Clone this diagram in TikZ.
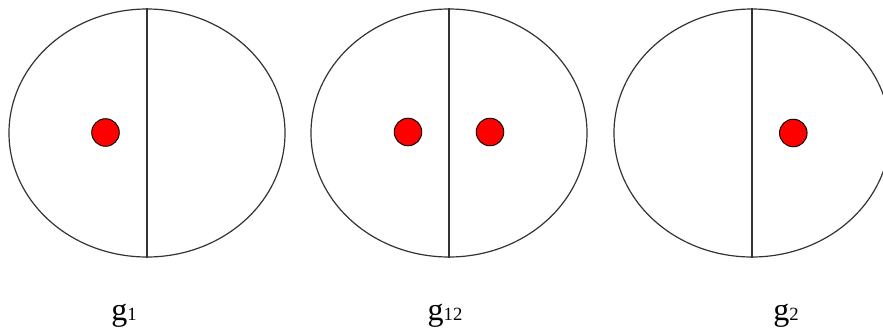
\documentclass[tikz,border=0pt]{standalone}
\usepackage{fontspec}
\setmainfont{Liberation Serif}
\usetikzlibrary{shapes.geometric}
\newcommand{\sublabel}[1]{g{\fontsize{14}{16}\selectfont #1}}
\begin{document}
\begin{tikzpicture}[x=0.75pt, y=-0.75pt,
    cell/.style={ellipse, draw=black!80, line width=0.9pt, minimum width=207pt, minimum height=186pt, inner sep=0pt},
    divider/.style={draw=black!80, line width=1pt},
    particle/.style={circle, fill=red, draw=black, line width=0.7pt, minimum size=20.7pt, inner sep=0pt},
    tag/.style={font=\fontsize{24}{26}\selectfont, inner sep=0pt, anchor=base}]
    \useasboundingbox (0,0) rectangle (883,329);

    % Cells
    \node[cell] (c1) at (147,133) {};
    \node[cell] (c12) at (449,133) {};
    \node[cell] (c2) at (752,133) {};

    % Dividing walls
    \draw[divider] (c1.north) -- (c1.south);
    \draw[divider] (c12.north) -- (c12.south);
    \draw[divider] (c2.north) -- (c2.south);

    % Particles
    \node[particle] (p1) at (105.5,132.5) {};
    \node[particle] (p12a) at (408,132) {};
    \node[particle] (p12b) at (490,132) {};
    \node[particle] (p2) at (793.3,133) {};

    % Labels
    \node[tag] (l1) at (124,320) {\sublabel{1}};
    \node[tag] (l12) at (445,320) {\sublabel{12}};
    \node[tag] (l2) at (786,320) {\sublabel{2}};
\end{tikzpicture}
\end{document}
